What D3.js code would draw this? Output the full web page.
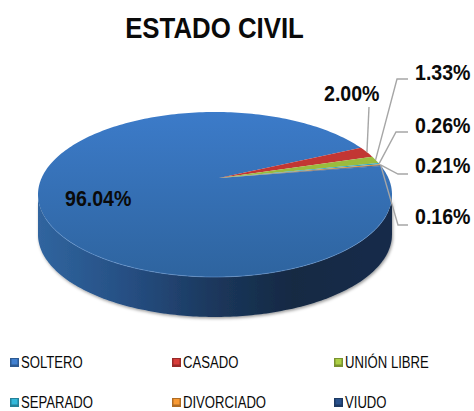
<!DOCTYPE html>
<html>
  <head>
    <meta charset="utf-8">
    <script src="https://d3js.org/d3.v7.min.js"></script>
    <style>
      html, body { margin: 0; padding: 0; background: #fff; }
      svg { display: block; }
      text { font-family: "Liberation Sans", Arial, sans-serif; fill: #0a0a0a; }
    </style>
  </head>
  <body>
    <svg width="474" height="411"></svg>
    <script>

    // chart data
    var categories = ["SOLTERO", "CASADO", "UNIÓN LIBRE", "SEPARADO", "DIVORCIADO", "VIUDO"];
    var values = [96.04, 2.00, 1.33, 0.26, 0.21, 0.16];
    var labels = ["96.04%", "2.00%", "1.33%", "0.26%", "0.21%", "0.16%"];
    var colors = ["#3a73bb", "#c23633", "#9bbb3e", "#2fa5c4", "#e08a2e", "#25497e"];

    // pie geometry: tilted ellipse, apex sits above its centre
    var cx = 215, cy = 194.5, rx = 177, ry = 82.5, depth = 40;
    var apexX = 219, apexY = 178;
    var startDeg = 69.8;

    var svg = d3.select("svg");
    var defs = svg.append("defs");

    function rimX(a) { return cx + rx * Math.sin(a); }
    function rimY(a) { return cy - ry * Math.cos(a); }

    // no narrow font installed, so squeeze the text sideways
    function narrow(sel, x, y, sx) {
      return sel.attr("transform", "translate(" + x + "," + y + ") scale(" + sx + ",1)");
    }

    // gradients
    var topGrad = defs.append("linearGradient").attr("id", "topFace")
      .attr("gradientUnits", "userSpaceOnUse")
      .attr("x1", 0).attr("x2", 0).attr("y1", cy - ry).attr("y2", cy + ry);
    topGrad.append("stop").attr("offset", 0).attr("stop-color", "#3c7bc9");
    topGrad.append("stop").attr("offset", 1).attr("stop-color", "#2e649f");

    var wallGrad = defs.append("linearGradient").attr("id", "wall")
      .attr("gradientUnits", "userSpaceOnUse")
      .attr("x1", cx - rx).attr("x2", cx + rx).attr("y1", 0).attr("y2", 0);
    [[0, "#30659f"], [0.25, "#264f83"], [0.5, "#1b375c"], [0.72, "#142943"], [1, "#162c4a"]].forEach(function(s) {
      wallGrad.append("stop").attr("offset", s[0]).attr("stop-color", s[1]);
    });

    var shadow = defs.append("filter").attr("id", "shadow")
      .attr("x", "-5%").attr("y", "-5%").attr("width", "110%").attr("height", "120%");
    shadow.append("feDropShadow").attr("dx", 1).attr("dy", 1.5).attr("stdDeviation", 1.5)
      .attr("flood-color", "#000").attr("flood-opacity", 0.4);

    // title
    narrow(svg.append("text"), 214.5, 37.5, 0.89)
      .attr("text-anchor", "middle")
      .attr("font-size", 29).attr("font-weight", "bold")
      .text("ESTADO CIVIL");

    // side wall, front half of the rim
    var wallAngles = d3.range(90, 270.5, 2).map(function(d) { return d * Math.PI / 180; });
    var wall = d3.area()
      .x(rimX)
      .y0(rimY)
      .y1(function(a) { return rimY(a) + depth; })
      .curve(d3.curveCatmullRom);
    svg.append("path")
      .attr("d", wall(wallAngles))
      .attr("fill", "url(#wall)")
      .attr("filter", "url(#shadow)");

    // slices
    var pie = d3.pie().sort(null)
      .startAngle(startDeg * Math.PI / 180)
      .endAngle((startDeg + 360) * Math.PI / 180);
    var arcs = pie(values);

    var wedgeLine = d3.line();
    function wedge(d) {
      var n = Math.max(2, Math.ceil((d.endAngle - d.startAngle) / 0.02));
      var pts = [[apexX, apexY]];
      d3.range(n + 1).forEach(function(i) {
        var a = d.startAngle + (d.endAngle - d.startAngle) * i / n;
        pts.push([rimX(a), rimY(a)]);
      });
      return wedgeLine(pts) + "Z";
    }

    svg.append("g").selectAll("path")
      .data(arcs)
      .enter()
      .append("path")
      .attr("d", wedge)
      .attr("fill", function(d, i) { return i == 0 ? "url(#topFace)" : colors[i]; });

    // light bevel along the front edge
    var edge = d3.line().x(rimX).y(rimY).curve(d3.curveCatmullRom);
    svg.append("path")
      .attr("d", edge(d3.range(105, 255, 2).map(function(d) { return d * Math.PI / 180; })))
      .attr("fill", "none")
      .attr("stroke", "#6f9fd8")
      .attr("stroke-opacity", 0.55)
      .attr("stroke-width", 1);

    // leader lines and value labels, elbow = where the line turns, text = label start
    var labelSpots = [
      { text: [65, 206] },
      { text: [324, 101], elbow: [[369, 107]] },
      { text: [415, 80], elbow: [[397, 79], [408, 79]] },
      { text: [415, 133], elbow: [[396, 132], [408, 132]] },
      { text: [415, 173], elbow: [[398, 174], [408, 174]] },
      { text: [415, 224], elbow: [[398, 225], [408, 225]] }
    ];

    var leader = d3.line();
    arcs.forEach(function(d, i) {
      var spot = labelSpots[i];
      if (spot.elbow) {
        var mid = (d.startAngle + d.endAngle) / 2;
        svg.append("path")
          .attr("d", leader([[rimX(mid), rimY(mid)]].concat(spot.elbow)))
          .attr("fill", "none")
          .attr("stroke", "#a6a6a6")
          .attr("stroke-width", 1.4);
      }
      narrow(svg.append("text"), spot.text[0], spot.text[1], 0.89)
        .attr("font-size", 22).attr("font-weight", "bold")
        .text(labels[i]);
    });

    // legend
    var legendX = d3.scalePoint().domain([0, 1, 2]).range([10, 334]);
    var legendY = d3.scalePoint().domain([0, 1]).range([358, 398]);

    var legend = svg.append("g").selectAll("g")
      .data(categories)
      .enter()
      .append("g")
      .attr("transform", function(d, i) {
        return "translate(" + legendX(i % 3) + "," + legendY(Math.floor(i / 3)) + ")";
      });

    legend.append("rect")
      .attr("width", 9).attr("height", 9)
      .attr("fill", function(d, i) { return d3.color(colors[i]).darker(0.7); });
    legend.append("rect")
      .attr("x", 1.5).attr("y", 1).attr("width", 6).attr("height", 5.5)
      .attr("fill", function(d, i) { return d3.color(colors[i]).brighter(0.3); });
    narrow(legend.append("text"), 11, 10, 0.82)
      .attr("font-size", 16)
      .text(function(d) { return d; });

    </script>
  </body>
</html>
